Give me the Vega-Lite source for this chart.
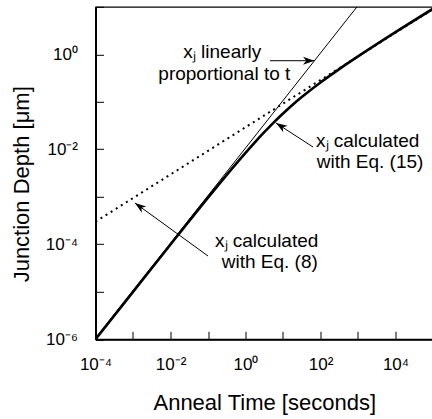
{
  "$schema": "https://vega.github.io/schema/vega-lite/v6.json",
  "autosize": {"type": "none"},
  "padding": {"left": 95.5, "top": 6.8, "right": 0, "bottom": 79.7},
  "width": 337.5,
  "height": 332.5,
  "background": "white",
  "config": {
    "view": {"stroke": "black", "strokeWidth": 1.2},
    "font": "Liberation Sans"
  },
  "datasets": {
    "curves": [
      {"series": "linear", "t": 0.0001, "d": 1.06e-6},
      {"series": "linear", "t": 940, "d": 10},
      {"series": "eq8", "t": 0.0001, "d": 0.0002992},
      {"series": "eq8", "t": 100000, "d": 8.91},
      {"series": "eq15", "t": 0.0001, "d": 1.0e-6},
      {"series": "eq15", "t": 0.001, "d": 9.979e-6},
      {"series": "eq15", "t": 0.01, "d": 9.906e-5},
      {"series": "eq15", "t": 0.1, "d": 0.0009598},
      {"series": "eq15", "t": 0.3162, "d": 0.002906},
      {"series": "eq15", "t": 1, "d": 0.00845},
      {"series": "eq15", "t": 1.778, "d": 0.01406},
      {"series": "eq15", "t": 3.162, "d": 0.02294},
      {"series": "eq15", "t": 4.217, "d": 0.02904},
      {"series": "eq15", "t": 5.623, "d": 0.03651},
      {"series": "eq15", "t": 7.499, "d": 0.04562},
      {"series": "eq15", "t": 10, "d": 0.05663},
      {"series": "eq15", "t": 13.34, "d": 0.06981},
      {"series": "eq15", "t": 17.78, "d": 0.08551},
      {"series": "eq15", "t": 31.62, "d": 0.1259},
      {"series": "eq15", "t": 100, "d": 0.2557},
      {"series": "eq15", "t": 316.2, "d": 0.4888},
      {"series": "eq15", "t": 1000, "d": 0.9016},
      {"series": "eq15", "t": 10000, "d": 2.928},
      {"series": "eq15", "t": 100000, "d": 9.1}
    ],
    "arrows": [
      {"id": "a1", "t": 68, "d": 0.7328, "t2": 4.498, "d2": 0.7328},
      {"id": "a2", "t": 6.505, "d": 0.03579, "t2": 63.1, "d2": 0.01118},
      {"id": "a3", "t": 0.00113, "d": 0.0007396, "t2": 0.1, "d2": 5.675e-5}
    ],
    "notes": [
      {"label": "xⱼ linearly", "t": 0.02193, "d": 0.8357},
      {"label": "proportional to t", "t": 0.004732, "d": 0.2877},
      {"label": "xⱼ calculated", "t": 75.86, "d": 0.01135},
      {"label": "with Eq. (15)", "t": 79.25, "d": 0.003981},
      {"label": "xⱼ calculated", "t": 0.1537, "d": 8.902e-5},
      {"label": "with Eq. (8)", "t": 0.2318, "d": 3.124e-5}
    ]
  },
  "encoding": {
    "x": {
      "field": "t",
      "type": "quantitative",
      "scale": {"type": "log", "domain": [0.0001, 100000], "nice": false},
      "axis": {
        "values": [0.0001, 0.001, 0.01, 0.1, 1, 10, 100, 1000, 10000, 100000],
        "labelExpr": "round(log(datum.value)/LN10) % 2 != 0 ? '' : '10' + replace(replace(replace(replace(replace('' + round(log(datum.value)/LN10), '-', '⁻'), '0', '⁰'), '2', '²'), '4', '⁴'), '6', '⁶')",
        "grid": false,
        "tickSize": -8,
        "tickColor": "black",
        "tickWidth": 1,
        "domainColor": "black",
        "domainWidth": 2,
        "labelPadding": 25,
        "labelFontSize": 17,
        "labelColor": "black",
        "labelFont": "Liberation Sans",
        "labelFlush": false,
        "labelOverlap": false,
        "labelBaseline": "top",
        "title": "Anneal Time [seconds]",
        "titleFont": "Liberation Sans",
        "titleFontSize": 22,
        "titleFontWeight": "normal",
        "titleColor": "black",
        "titleX": 168.75,
        "titleY": 70,
        "titleBaseline": "alphabetic",
        "titleAlign": "center"
      }
    },
    "y": {
      "field": "d",
      "type": "quantitative",
      "scale": {"type": "log", "domain": [0.000001, 10], "nice": false},
      "axis": {
        "values": [0.000001, 0.00001, 0.0001, 0.001, 0.01, 0.1, 1, 10],
        "labelExpr": "round(log(datum.value)/LN10) % 2 != 0 ? '' : '10' + replace(replace(replace(replace(replace('' + round(log(datum.value)/LN10), '-', '⁻'), '0', '⁰'), '2', '²'), '4', '⁴'), '6', '⁶')",
        "grid": false,
        "tickSize": -8,
        "tickColor": "black",
        "tickWidth": 1,
        "domainColor": "black",
        "domainWidth": 2,
        "labelPadding": 26,
        "labelFontSize": 17,
        "labelColor": "black",
        "labelFont": "Liberation Sans",
        "labelFlush": false,
        "labelOverlap": false,
        "title": "Junction Depth [μm]",
        "titleFont": "Liberation Sans",
        "titleFontSize": 22,
        "titleFontWeight": "normal",
        "titleColor": "black",
        "titleX": -67.5,
        "titleY": 177,
        "titleAngle": 270,
        "titleBaseline": "alphabetic",
        "titleAlign": "center"
      }
    }
  },
  "layer": [
    {
      "data": {"name": "curves"},
      "transform": [{"filter": "datum.series == 'linear'"}],
      "mark": {"type": "line", "color": "black", "strokeWidth": 1, "clip": true},
      "encoding": {}
    },
    {
      "data": {"name": "curves"},
      "transform": [{"filter": "datum.series == 'eq8'"}],
      "mark": {"type": "line", "color": "black", "strokeWidth": 2, "strokeDash": [2, 4], "clip": true},
      "encoding": {}
    },
    {
      "data": {"name": "curves"},
      "transform": [{"filter": "datum.series == 'eq15'"}],
      "mark": {"type": "line", "color": "black", "strokeWidth": 2.6, "interpolate": "monotone", "clip": true},
      "encoding": {}
    },
    {
      "data": {"name": "arrows"},
      "mark": {"type": "rule", "color": "black", "strokeWidth": 1},
      "encoding": {
        "x2": {"field": "t2"},
        "y2": {"field": "d2"}
      }
    },
    {
      "data": {"name": "arrows"},
      "transform": [{"filter": "datum.id == 'a1'"}],
      "mark": {"type": "point", "shape": "M0,0L-1,-0.35L-0.72,0L-1,0.35Z", "filled": true, "color": "black", "size": 500, "angle": 0, "opacity": 1},
      "encoding": {}
    },
    {
      "data": {"name": "arrows"},
      "transform": [{"filter": "datum.id == 'a2'"}],
      "mark": {"type": "point", "shape": "M0,0L-1,-0.35L-0.72,0L-1,0.35Z", "filled": true, "color": "black", "size": 500, "angle": 213, "opacity": 1},
      "encoding": {}
    },
    {
      "data": {"name": "arrows"},
      "transform": [{"filter": "datum.id == 'a3'"}],
      "mark": {"type": "point", "shape": "M0,0L-1,-0.35L-0.72,0L-1,0.35Z", "filled": true, "color": "black", "size": 500, "angle": 216, "opacity": 1},
      "encoding": {}
    },
    {
      "data": {"name": "notes"},
      "mark": {"type": "text", "align": "left", "baseline": "alphabetic", "font": "Liberation Sans", "fontSize": 19, "color": "black"},
      "encoding": {"text": {"field": "label"}}
    }
  ]
}
